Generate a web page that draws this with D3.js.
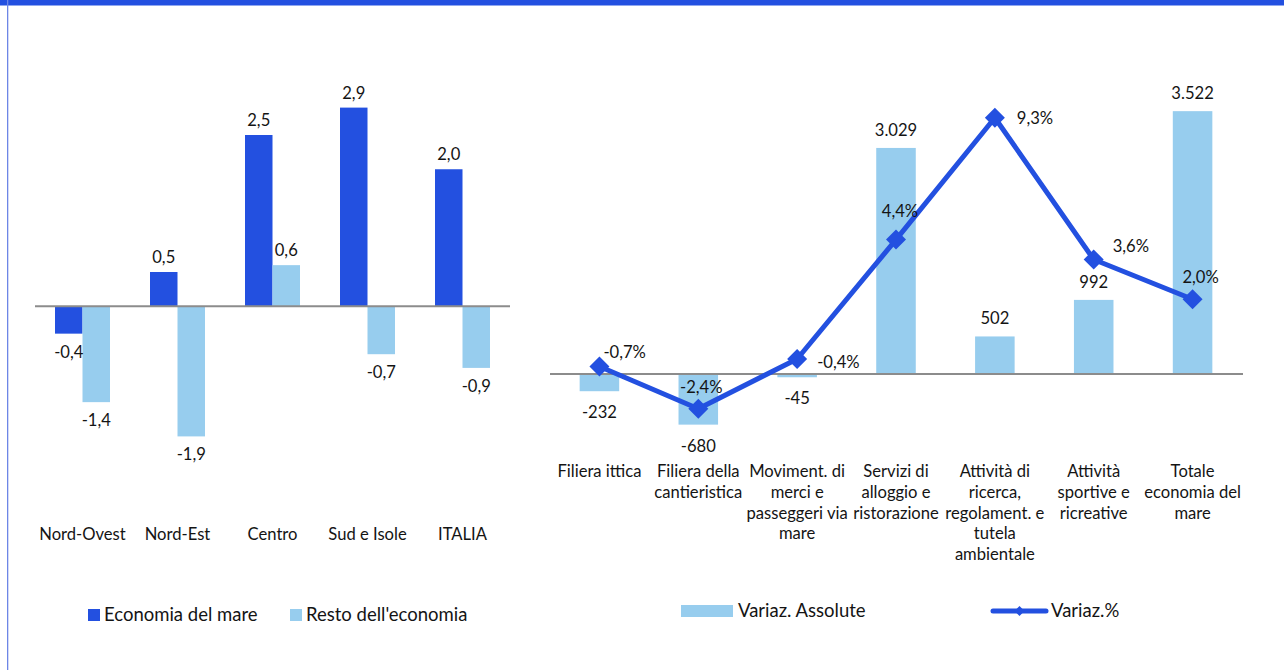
<!DOCTYPE html>
<html>
<head>
<meta charset="utf-8">
<script src="https://cdn.jsdelivr.net/npm/d3@7/dist/d3.min.js"></script>
<style>
  html, body { margin: 0; padding: 0; background: #fff; }
  svg { display: block; }
  text { font-family: Lato, "Open Sans", sans-serif; fill: #141414; }
</style>
</head>
<body>
<svg id="chart" width="1284" height="670"></svg>
<script>
// ---- Data: variazioni per area geografica (%) ----
const areas = ["Nord-Ovest", "Nord-Est", "Centro", "Sud e Isole", "ITALIA"];
const economiaMare = [-0.4, 0.5, 2.5, 2.9, 2.0];
const restoEconomia = [-1.4, -1.9, 0.6, -0.7, -0.9];
const seriesLeft = ["Economia del mare", "Resto dell'economia"];

// ---- Data: variazioni per filiera ----
const filiere = [
  ["Filiera ittica"],
  ["Filiera della", "cantieristica"],
  ["Moviment. di", "merci e", "passeggeri via", "mare"],
  ["Servizi di", "alloggio e", "ristorazione"],
  ["Attività di", "ricerca,", "regolament. e", "tutela", "ambientale"],
  ["Attività", "sportive e", "ricreative"],
  ["Totale", "economia del", "mare"]
];
const variazAssolute = [-232, -680, -45, 3029, 502, 992, 3522];
const variazPerc = [-0.7, -2.4, -0.4, 4.4, 9.3, 3.6, 2.0];
const seriesRight = ["Variaz. Assolute", "Variaz.%"];

// Placement of the percentage labels around each marker
const pctLabelPlacement = [
  { anchor: "start", dx: 4, dy: -8 },
  { anchor: "middle", dx: 3, dy: -16 },
  { anchor: "start", dx: 20, dy: 9 },
  { anchor: "middle", dx: 4, dy: -23 },
  { anchor: "start", dx: 22, dy: 6 },
  { anchor: "start", dx: 19, dy: -8 },
  { anchor: "middle", dx: 8, dy: -16 }
];

const DARK = "#2350E0";
const LIGHT = "#97CDEE";
const AXIS = "#8c8c8c";
const FS = 16.6;      // data and category labels
const FS_LEG = 18.5;  // legend entries

const it = d3.formatLocale({ decimal: ",", thousands: ".", grouping: [3], currency: ["€", ""], minus: "-" });
const fmt1 = it.format(".1f");
const fmtInt = it.format(",.0f");

const svg = d3.select("#chart");

// Frame: top band and left rule
svg.append("rect").attr("x", 0).attr("y", 0).attr("width", 1284).attr("height", 5.5).attr("fill", DARK);
svg.append("rect").attr("x", 7).attr("y", 0).attr("width", 1.3).attr("height", 670).attr("fill", "#6d86e6");

// ================= Left chart: grouped bars =================
const left = svg.append("g");
const x0 = d3.scaleBand().domain(areas).range([35, 510]);
const x1 = d3.scaleBand().domain(seriesLeft).range([0, 55]);
const groupOffset = (x0.bandwidth() - 55) / 2;
const yL = d3.scaleLinear().domain([-2.5, 3.5]).range([477.5, 66.5]);

const leftRows = areas.map((a, i) => ({ area: a, values: [
  { s: seriesLeft[0], v: economiaMare[i], c: DARK },
  { s: seriesLeft[1], v: restoEconomia[i], c: LIGHT }
]}));

const groups = left.selectAll("g.grp").data(leftRows).join("g")
  .attr("transform", d => `translate(${x0(d.area) + groupOffset},0)`);

groups.selectAll("rect").data(d => d.values).join("rect")
  .attr("x", d => x1(d.s))
  .attr("width", x1.bandwidth())
  .attr("y", d => yL(Math.max(0, d.v)))
  .attr("height", d => Math.abs(yL(d.v) - yL(0)))
  .attr("fill", d => d.c);

groups.selectAll("text").data(d => d.values).join("text")
  .attr("x", d => x1(d.s) + x1.bandwidth() / 2)
  .attr("y", d => d.v >= 0 ? yL(d.v) - 9 : yL(d.v) + 24)
  .attr("text-anchor", "middle")
  .attr("font-size", FS)
  .text(d => fmt1(d.v));

// zero line
left.append("line")
  .attr("x1", 35).attr("x2", 510)
  .attr("y1", yL(0)).attr("y2", yL(0))
  .attr("stroke", AXIS).attr("stroke-width", 2);

// category axis labels
const axL = d3.axisBottom(x0).tickSize(0).tickPadding(0);
const gAxL = left.append("g").attr("transform", "translate(0,528)").call(axL);
gAxL.select(".domain").remove();
gAxL.selectAll("text").attr("font-size", FS).attr("font-family", "Lato, sans-serif").attr("fill", "#141414").attr("dy", "0.35em").attr("y", 6);

// legend left
const legL = svg.append("g");
[[88, 104, DARK, seriesLeft[0]], [290, 306, LIGHT, seriesLeft[1]]].forEach(([rx, tx, c, t]) => {
  legL.append("rect").attr("x", rx).attr("y", 609).attr("width", 12).attr("height", 12).attr("fill", c);
  legL.append("text").attr("x", tx).attr("y", 621).attr("font-size", FS_LEG).text(t);
});

// ================= Right chart: bars + line =================
const right = svg.append("g");
const xR = d3.scaleBand().domain(d3.range(filiere.length)).range([550, 1242]).paddingInner(0.6).paddingOuter(0.3);
const yAbs = d3.scaleLinear().domain([-1000, 4000]).range([448.5, 75.5]);
const yPct = d3.scaleLinear().domain([-4, 11]).range([448.5, 75.5]);

right.selectAll("rect.bar").data(variazAssolute).join("rect")
  .attr("class", "bar")
  .attr("x", (d, i) => xR(i))
  .attr("width", xR.bandwidth())
  .attr("y", d => yAbs(Math.max(0, d)))
  .attr("height", d => Math.abs(yAbs(d) - yAbs(0)))
  .attr("fill", LIGHT);

right.append("line")
  .attr("x1", 550).attr("x2", 1243)
  .attr("y1", yAbs(0)).attr("y2", yAbs(0))
  .attr("stroke", AXIS).attr("stroke-width", 2);

right.selectAll("text.barlab").data(variazAssolute).join("text")
  .attr("class", "barlab")
  .attr("x", (d, i) => xR(i) + xR.bandwidth() / 2)
  .attr("y", d => d >= 0 ? yAbs(d) - 12 : yAbs(d) + 27)
  .attr("text-anchor", "middle")
  .attr("font-size", FS)
  .text(d => fmtInt(d));

const cx = i => xR(i) + xR.bandwidth() / 2;
const line = d3.line().x((d, i) => cx(i)).y(d => yPct(d));
right.append("path")
  .datum(variazPerc)
  .attr("d", line)
  .attr("fill", "none")
  .attr("stroke", DARK)
  .attr("stroke-width", 5)
  .attr("stroke-linejoin", "round");

right.selectAll("path.mk").data(variazPerc).join("path")
  .attr("class", "mk")
  .attr("d", d3.symbol(d3.symbolSquare, 200))
  .attr("transform", (d, i) => `translate(${cx(i)},${yPct(d)}) rotate(45)`)
  .attr("fill", DARK);

right.selectAll("text.pct").data(variazPerc).join("text")
  .attr("class", "pct")
  .attr("x", (d, i) => cx(i) + pctLabelPlacement[i].dx)
  .attr("y", (d, i) => yPct(d) + pctLabelPlacement[i].dy)
  .attr("text-anchor", (d, i) => pctLabelPlacement[i].anchor)
  .attr("font-size", FS)
  .text(d => fmt1(d) + "%");

// multi-line category labels
const catR = right.selectAll("text.cat").data(filiere).join("text")
  .attr("class", "cat")
  .attr("text-anchor", "middle")
  .attr("font-size", FS)
  .attr("x", (d, i) => cx(i))
  .attr("y", 477);
catR.selectAll("tspan").data(d => d).join("tspan")
  .attr("x", function () { return d3.select(this.parentNode).attr("x"); })
  .attr("dy", (d, j) => j === 0 ? 0 : 20.8)
  .text(d => d);

// legend right
const legR = svg.append("g");
legR.append("rect").attr("x", 681).attr("y", 605).attr("width", 52).attr("height", 12).attr("fill", LIGHT);
legR.append("text").attr("x", 738).attr("y", 617).attr("font-size", FS_LEG).text(seriesRight[0]);
legR.append("line").attr("x1", 993).attr("x2", 1046).attr("y1", 611).attr("y2", 611)
  .attr("stroke", DARK).attr("stroke-width", 5).attr("stroke-linecap", "round");
legR.append("path").attr("d", d3.symbol(d3.symbolSquare, 50))
  .attr("transform", "translate(1019.5,611) rotate(45)").attr("fill", DARK);
legR.append("text").attr("x", 1051).attr("y", 617).attr("font-size", FS_LEG).text(seriesRight[1]);
</script>
</body>
</html>
